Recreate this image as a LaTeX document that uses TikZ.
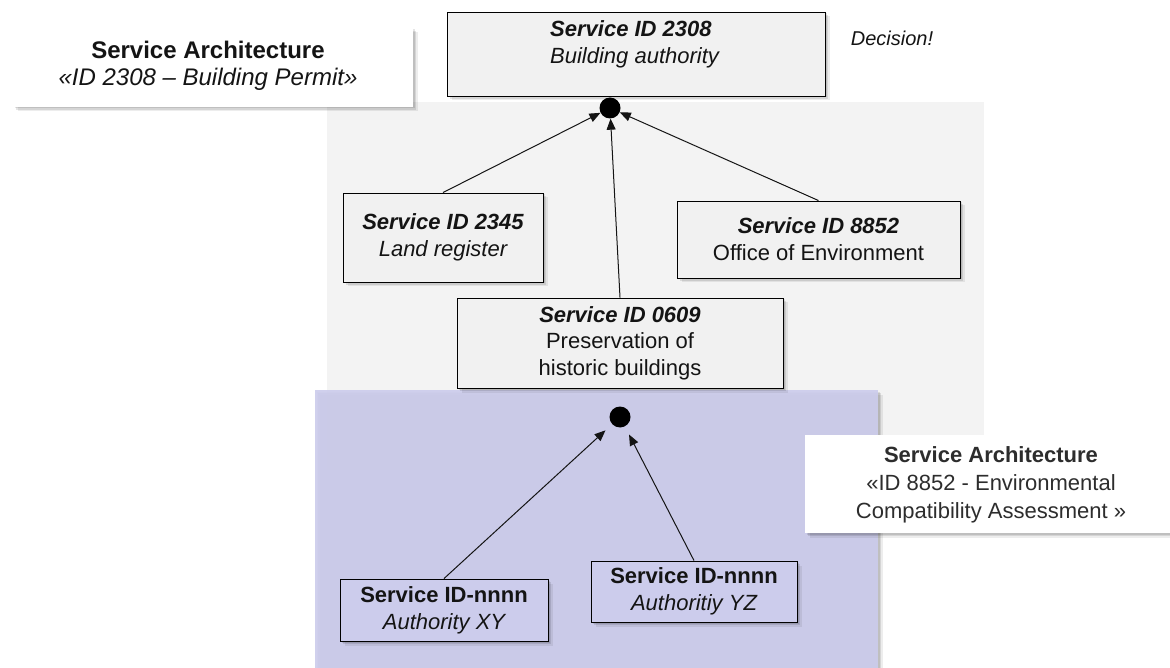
\documentclass[tikz,border=0pt]{standalone}
\usepackage{fontspec}
\setmainfont{Liberation Sans}
\usetikzlibrary{arrows.meta,shadows}
\definecolor{panelgray}{RGB}{243,243,243}
\definecolor{boxgray}{RGB}{241,241,241}
\definecolor{panelblue}{RGB}{204,204,236}
\definecolor{ink}{RGB}{20,20,20}
\definecolor{softink}{RGB}{45,45,45}

\begin{document}
\begin{tikzpicture}[x=1pt,y=-1pt,
  every node/.style={font=\fontsize{22}{27}\selectfont, text=ink},
  % soft shadow built from a few stacked offsets
  boxshadow/.style={
    drop shadow={shadow xshift=1.5pt, shadow yshift=-1.5pt, fill=black, opacity=0.10},
    drop shadow={shadow xshift=3pt, shadow yshift=-3pt, fill=black, opacity=0.10},
    drop shadow={shadow xshift=4.5pt, shadow yshift=-4.5pt, fill=black, opacity=0.07}},
  svcbox/.style={draw=black, line width=0.9pt, fill=boxgray, inner sep=0pt, boxshadow},
  bluebox/.style={svcbox, fill=panelblue},
  notebox/.style={fill=white, inner sep=0pt, boxshadow},
  txt/.style={inner sep=0pt, align=center},
  hubdot/.style={circle, fill=black, minimum size=21pt, inner sep=0pt},
  conn/.style={draw=ink, line width=1pt, -{Triangle[length=11pt,width=9pt]}}
]
\useasboundingbox (0,0) rectangle (1170,668);

% background areas of the two architectures
\fill[panelgray] (327,102) rectangle (984,470);
\fill[panelblue, opacity=0.92, boxshadow] (315,390) rectangle (878,668);

% deciding service
\node[svcbox, minimum width=378pt, minimum height=84pt] (top) at (636,54) {};
\node[inner sep=0pt, align=left, anchor=north west] (toptxt) at (550,20)
  {\bfseries\itshape Service ID 2308\\ \itshape Building authority};
\node[font=\fontsize{20}{24}\selectfont\itshape] (decision) at (892,38) {Decision!};

% caption of the building permit architecture
\node[notebox, minimum width=400pt, minimum height=79pt] (archA) at (213,67.5) {};
\node[txt, font=\fontsize{24}{27}\selectfont] (archAtxt) at (208,66)
  {\bfseries Service Architecture\\ \itshape «ID 2308 – Building Permit»};

\node[hubdot] (hub) at (610,108) {};

% contributing services
\node[svcbox, minimum width=200pt, minimum height=89pt, txt] (land) at (443,237.5)
  {\bfseries\itshape Service ID 2345\\ \itshape Land register};
\node[svcbox, minimum width=283pt, minimum height=77pt, txt] (office) at (818.5,239.5)
  {\bfseries\itshape Service ID 8852\\ Office of Environment};
\node[svcbox, minimum width=326pt, minimum height=90pt, txt,
      font=\fontsize{22}{26.5}\selectfont] (pres) at (620,343)
  {\bfseries\itshape Service ID 0609\\ Preservation of\\ historic buildings};

\draw[conn] (land.north) -- (hub);
\draw[conn] (pres.north) -- (hub);
\draw[conn] (office.north) -- (hub);

% sub-architecture of the environmental assessment
\node[hubdot] (hub2) at (620,417) {};
\node[bluebox, minimum width=208pt, minimum height=62pt, txt] (xy) at (444,610)
  {\bfseries Service ID-nnnn\\ \itshape Authority XY};
\node[bluebox, minimum width=206pt, minimum height=61pt, txt] (yz) at (694,591.5)
  {\bfseries Service ID-nnnn\\ \itshape Authoritiy YZ};

\draw[conn, shorten >=9pt] (xy.north) -- (hub2);
\draw[conn, shorten >=9pt] (yz.north) -- (hub2);

% caption of the environmental assessment architecture
\node[notebox, minimum width=370pt, minimum height=98pt] (archB) at (990,484) {};
\node[txt, text=softink, font=\fontsize{22}{28}\selectfont] (archBtxt) at (991,485)
  {\bfseries Service Architecture\\ «ID 8852 - Environmental\\ Compatibility Assessment »};
\end{tikzpicture}
\end{document}
